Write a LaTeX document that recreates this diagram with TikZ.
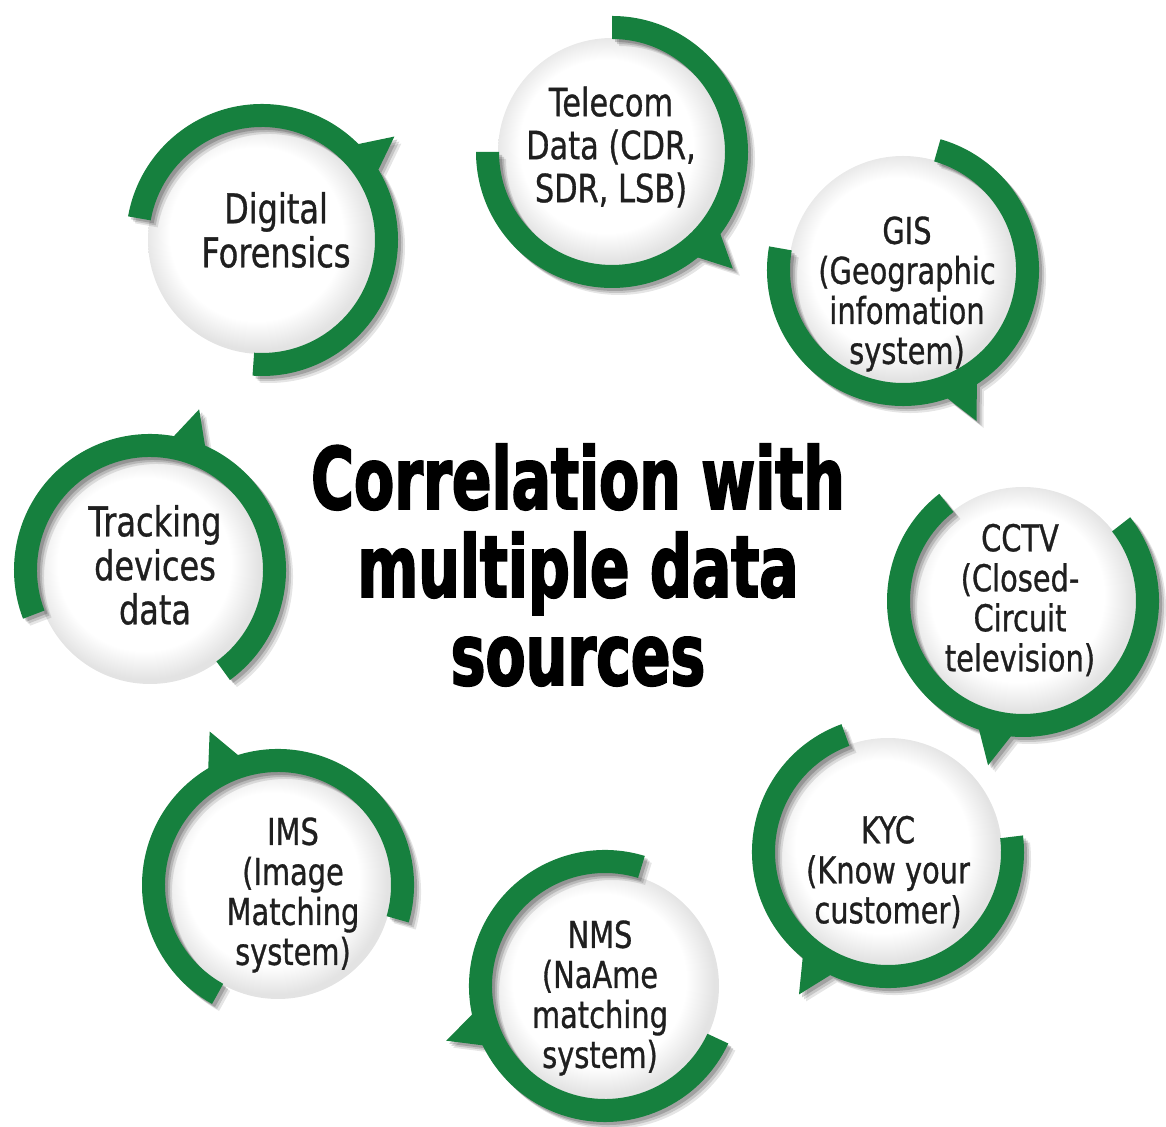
\documentclass[tikz,border=0pt]{standalone}
\usepackage{fontspec}
\newfontfamily\labelfont[FakeStretch=0.78, FakeBold=0.8]{DejaVu Sans}
\newfontfamily\titlefont[FakeStretch=0.68, BoldFeatures={FakeBold=2}]{DejaVu Sans}
\usetikzlibrary{calc}
\definecolor{ringgreen}{RGB}{22,128,62}
\pgfdeclareradialshading{discshade}{\pgfpoint{-2bp}{2bp}}{color(0bp)=(white); color(19bp)=(white); color(25bp)=(black!11); color(50bp)=(black!11)}
\tikzset{
  ring/.style={
    fill=ringgreen,
    preaction={fill=black, opacity=.10, transform canvas={shift={(7pt,-7pt)}}},
    preaction={fill=black, opacity=.14, transform canvas={shift={(5pt,-5pt)}}},
    preaction={fill=black, opacity=.18, transform canvas={shift={(3pt,-3pt)}}}
  },
  srclabel/.style={
    align=center, text=black!88,
    font=\labelfont\fontsize{37}{40}\selectfont
  },
  bigsrclabel/.style={
    srclabel, font=\labelfont\fontsize{41}{44}\selectfont
  },
  maintitle/.style={
    align=center, text=black,
    font=\titlefont\bfseries\fontsize{86}{88}\selectfont
  },
}
\newcommand{\ringout}{136}
\newcommand{\ringin}{113}
% #1 centre, #2 arc start, #3 arc end, #4 angle of the tail
\newcommand{\sourcering}[4]{%
  \shade[shading=discshade] (#1) circle[radius=\ringin+1];
  \fill[ring] ($(#1)+(#2:\ringout)$) arc[start angle=#2, end angle=#3, radius=\ringout]
    -- ($(#1)+(#3:\ringin)$) arc[start angle=#3, end angle=#2, radius=\ringin] -- cycle
    ($(#1)+(#4-8:\ringout-4)$) -- ($(#1)+(#4:\ringout+32)$) -- ($(#1)+(#4+8:\ringout-4)$) -- cycle;
}

\begin{document}
\begin{tikzpicture}[x=1pt, y=1pt]
  \useasboundingbox (0,0) rectangle (1166,1126);

  % ring centres
  \coordinate (digc)  at (262,886);
  \coordinate (telc)  at (612,974);
  \coordinate (gisc)  at (903,856);
  \coordinate (cctvc) at (1023,525);
  \coordinate (kycc)  at (888,274);
  \coordinate (nmsc)  at (605,140);
  \coordinate (imsc)  at (278,241);
  \coordinate (trkc)  at (150,556);

  \sourcering{digc}{-94}{170}{38}
  \sourcering{telc}{180}{450}{-44}
  \sourcering{gisc}{170}{434}{-64}
  \sourcering{cctvc}{128}{398}{-102}
  \sourcering{kycc}{110}{367}{-122}
  \sourcering{nmsc}{73}{335}{-161}
  \sourcering{imsc}{-16}{241}{114}
  \sourcering{trkc}{-54}{201}{73}

  \node[bigsrclabel] (dig)  at (276,896)  {Digital\\Forensics};
  \node[srclabel, font=\labelfont\fontsize{39}{43}\selectfont] (tel) at (611,979) {Telecom\\Data (CDR,\\SDR, LSB)};
  \node[srclabel] (gis)  at (907,832)  {GIS\\(Geographic\\infomation\\system)};
  \node[srclabel] (cctv) at (1020,526) {CCTV\\(Closed-\\Circuit\\television)};
  \node[srclabel] (kyc)  at (888,254)  {KYC\\(Know your\\customer)};
  \node[srclabel] (nms)  at (600,128)  {NMS\\(NaAme\\matching\\system)};
  \node[srclabel] (ims)  at (293,231)  {IMS\\(Image\\Matching\\system)};
  \node[bigsrclabel] (trk)  at (155,561)  {Tracking\\devices\\data};

  \node[maintitle] (title) at (578,561) {Correlation with\\multiple data\\sources};
\end{tikzpicture}
\end{document}
